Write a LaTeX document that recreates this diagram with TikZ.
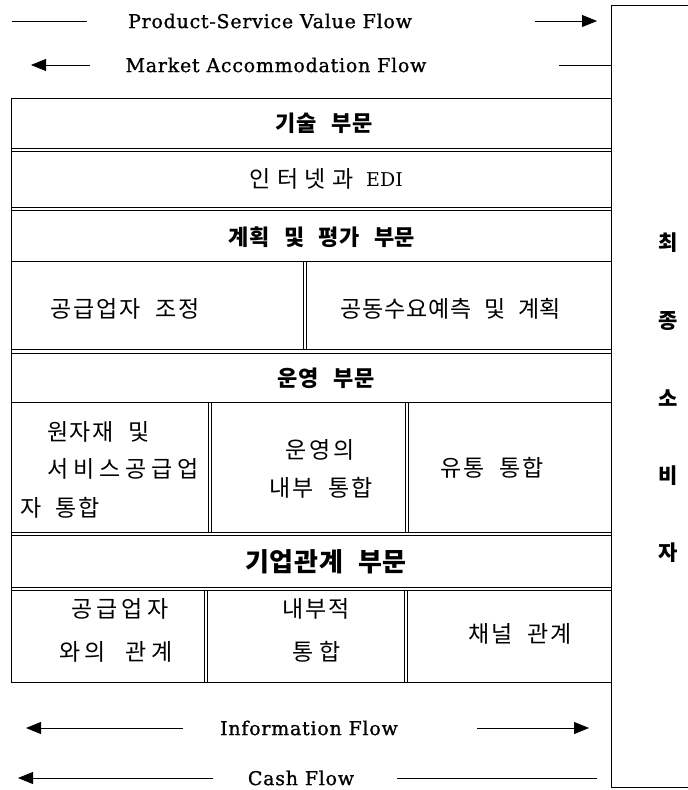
\documentclass[tikz,border=0pt]{standalone}
\usepackage{fontspec}
\usetikzlibrary{arrows.meta}
\newfontfamily\krfont[WordSpace=2.2]{Noto Sans CJK KR}
\newfontfamily\krbfont[WordSpace=2.5,LetterSpace=3]{Noto Sans CJK KR}
\newfontfamily\krplain{Noto Sans CJK KR}
\newfontfamily\enfont[LetterSpace=4,FakeBold=1]{DejaVu Serif}
\newfontfamily\enplain{DejaVu Serif}
\begin{document}
\begin{tikzpicture}[x=1pt,y=-1pt,
  kr/.style={font={\krfont\fontsize{23}{27}\selectfont\addfontfeature{LetterSpace=#1}}, inner sep=0pt},
  kr/.default=8,
  krb/.style={font=\krbfont\bfseries\fontsize{22}{26}\selectfont, inner sep=0pt},
  krbig/.style={font=\krbfont\bfseries\fontsize{26}{30}\selectfont, inner sep=0pt},
  cons/.style={font=\krplain\bfseries\fontsize{21}{24}\selectfont, inner sep=0pt},
  en/.style={font=\enfont\fontsize{19}{22}\selectfont, inner sep=0pt},
  ensmall/.style={font=\enplain\fontsize{19}{22}\selectfont, inner sep=0pt},
  ln/.style={line width=0.8pt},
  arr/.style={line width=0.8pt, -{Triangle[length=15pt,width=12pt]}}]
\useasboundingbox (0,0) rectangle (688,790);

% ---- consumer box ----
\draw[ln] (688,5) -- (611,5) -- (611,787) -- (688,787);
\node[cons] (c1) at (668,243) {최};
\node[cons] (c2) at (668,321) {종};
\node[cons] (c3) at (668,398) {소};
\node[cons] (c4) at (668,476) {비};
\node[cons] (c5) at (668,553) {자};

% ---- top flows ----
\node[en] (psv) at (270,21) {Product-Service Value Flow};
\coordinate (psvA) at (12,21);
\coordinate (psvB) at (87,21);
\coordinate (psvC) at (535,21);
\coordinate (psvD) at (597,21);
\draw[ln] (psvA) -- (psvB);
\draw[arr] (psvC) -- (psvD);

\node[en] (maf) at (276,65) {Market Accommodation Flow};
\coordinate (mafA) at (90,65);
\coordinate (mafB) at (31,65);
\coordinate (mafC) at (559,65);
\coordinate (mafD) at (611,65);
\draw[arr] (mafA) -- (mafB);
\draw[ln] (mafC) -- (mafD);

% ---- table ----
\foreach \y in {98,148,151,207,210,261,349,353,402,532,535,587,590,682}
  \draw[ln] (11,\y) -- (611,\y);
\draw[ln] (11,98) -- (11,682);
\draw[ln] (303,261) -- (303,349);
\draw[ln] (306,261) -- (306,349);
\draw[ln] (208,402) -- (208,532);
\draw[ln] (211,402) -- (211,532);
\draw[ln] (405,402) -- (405,532);
\draw[ln] (408,402) -- (408,532);
\draw[ln] (204,590) -- (204,682);
\draw[ln] (207,590) -- (207,682);
\draw[ln] (404,590) -- (404,682);
\draw[ln] (407,590) -- (407,682);

\node[krb] (t1) at (324,123) {기술 부문};
\node[kr=29, anchor=west] (t2) at (249,179) {인터넷과};
\node[ensmall, anchor=west] (t2e) at (366,180) {EDI};
\node[krb] (t3) at (322,237) {계획 및 평가 부문};
\node[kr=8] (t4) at (125,309) {공급업자 조정};
\node[kr=3] (t5) at (451,309) {공동수요예측 및 계획};
\node[krb] (t6) at (326,378) {운영 부문};
\node[kr=7, anchor=west] (t7a) at (47,432) {원자재 및};
\node[kr=21, anchor=west] (t7b) at (47,469) {서비스공급업};
\node[kr=6, anchor=west] (t7c) at (20,508) {자 통합};
\node[kr=11] (t8a) at (320,450) {운영의};
\node[kr=7] (t8b) at (321,488) {내부 통합};
\node[kr=8] (t9) at (492,468) {유통 통합};
\node[krbig] (t10) at (326,562) {기업관계 부문};
\node[kr=17] (t11a) at (120,609) {공급업자};
\node[kr=17] (t11b) at (116,652) {와의 관계};
\node[kr=9] (t12a) at (316,609) {내부적};
\node[kr=25] (t12b) at (317,652) {통합};
\node[kr=7] (t13) at (520,634) {채널 관계};

% ---- bottom flows ----
\node[en] (inf) at (309,728) {Information Flow};
\coordinate (infA) at (183,728);
\coordinate (infB) at (26,728);
\coordinate (infC) at (477,728);
\coordinate (infD) at (589,728);
\draw[arr] (infA) -- (infB);
\draw[arr] (infC) -- (infD);

\node[en] (cash) at (301,778) {Cash Flow};
\coordinate (cashA) at (213,778);
\coordinate (cashB) at (18,778);
\coordinate (cashC) at (397,778);
\coordinate (cashD) at (597,778);
\draw[arr] (cashA) -- (cashB);
\draw[ln] (cashC) -- (cashD);
\end{tikzpicture}
\end{document}
